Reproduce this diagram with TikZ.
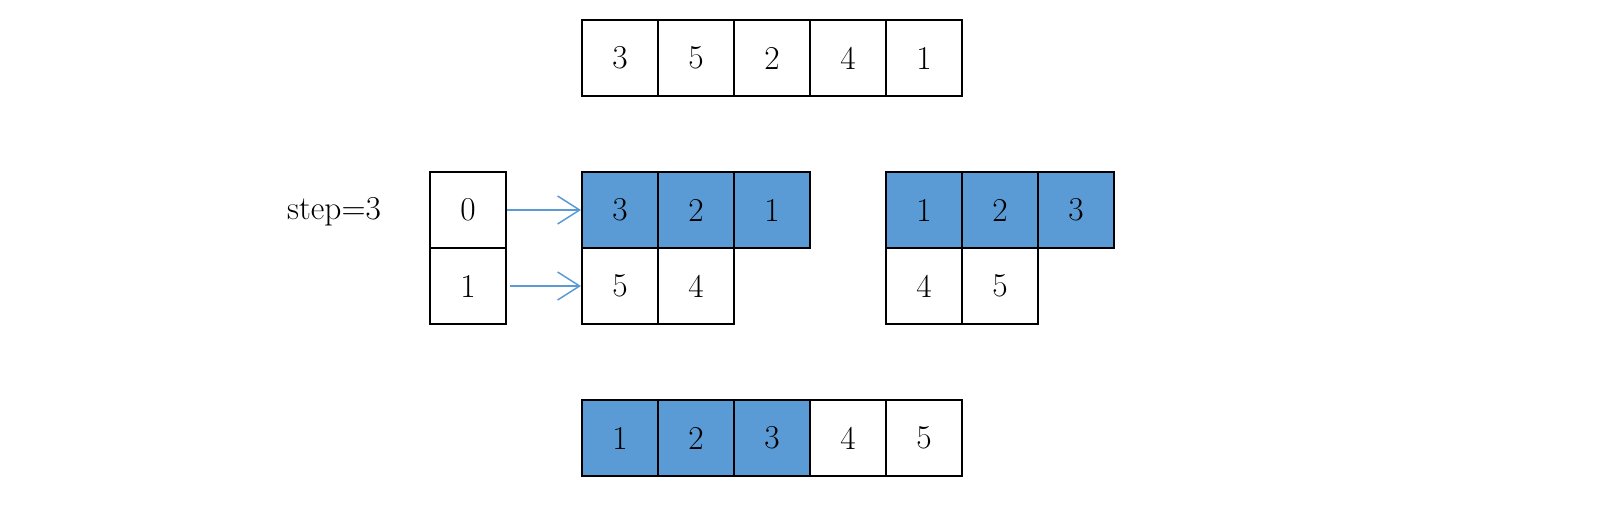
\documentclass[tikz,border=0pt]{standalone}
\usetikzlibrary{arrows.meta}
\definecolor{cellblue}{HTML}{5B9BD5}
\tikzset{
  cellbox/.style={draw, line width=0.04cm, minimum size=1.52cm, inner sep=0pt,
    font=\fontsize{19}{22}\selectfont},
  bluebox/.style={cellbox, fill=cellblue},
  bucketarrow/.style={draw=cellblue, line width=0.03cm,
    -{Straight Barb[length=0.44cm, width=0.56cm, line width=0.03cm]}}
}
\begin{document}
\begin{tikzpicture}[x=0.02cm, y=-0.02cm]
\useasboundingbox (0,0) rectangle (1608,522);
% input
\foreach \v [count=\i] in {3,5,2,4,1}
  \node[cellbox] (in\i) at (544+76*\i,58) {\v};
% buckets
\node[font=\fontsize{19}{22}\selectfont] (steplabel) at (334,212) {step=3};
\node[cellbox] (b0) at (468,210) {0};
\node[cellbox] (b1) at (468,286) {1};
\foreach \v [count=\i] in {3,2,1}
  \node[bluebox] (ra\i) at (544+76*\i,210) {\v};
\foreach \v [count=\i] in {5,4}
  \node[cellbox] (rb\i) at (544+76*\i,286) {\v};
% sorted buckets
\foreach \v [count=\i] in {1,2,3}
  \node[bluebox] (sa\i) at (848+76*\i,210) {\v};
\foreach \v [count=\i] in {4,5}
  \node[cellbox] (sb\i) at (848+76*\i,286) {\v};
% output
\foreach \v [count=\i] in {1,2,3}
  \node[bluebox] (out\i) at (544+76*\i,438) {\v};
\foreach \v [count=\i from 4] in {4,5}
  \node[cellbox] (out\i) at (544+76*\i,438) {\v};
\draw[bucketarrow] (b0.east) -- (ra1.west);
\draw[bucketarrow] ([xshift=0.06cm]b1.east) -- (rb1.west);
\end{tikzpicture}
\end{document}
